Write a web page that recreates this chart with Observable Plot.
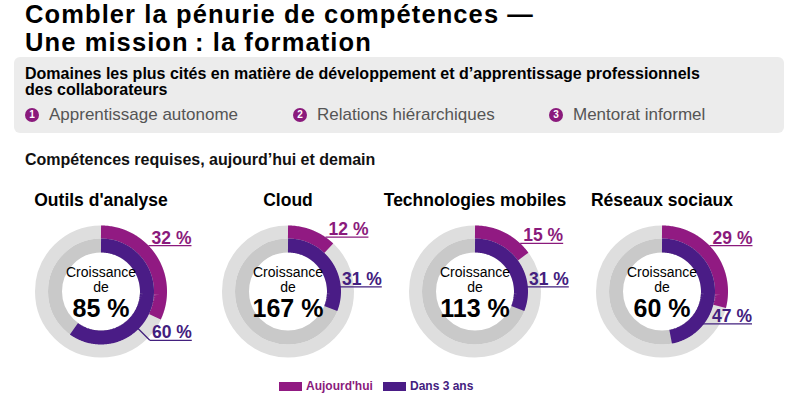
<!DOCTYPE html>
<html><head><meta charset="utf-8">
<script src="https://cdn.jsdelivr.net/npm/d3@7"></script>
<script src="https://cdn.jsdelivr.net/npm/@observablehq/plot@0.6"></script>
<style>
body{margin:0;width:794px;height:398px;background:#fff;font-family:"Liberation Sans",Arial,sans-serif;position:relative;overflow:hidden;color:#000}
.abs{position:absolute;white-space:nowrap}
.title{left:25px;font-weight:bold;font-size:25.5px;line-height:29px;letter-spacing:1.1px}
.box{position:absolute;left:14px;top:57px;width:770px;height:76px;background:#ececec;border-radius:6px}
.boxhead{left:25px;top:65.5px;font-weight:bold;font-size:16px;line-height:16px}
.item{top:105px;font-size:17px;line-height:20px;color:#555}
.num{position:absolute;top:108px;width:14px;height:14px;border-radius:7px;background:#8a1a7c;color:#fff;font-weight:bold;font-size:10px;line-height:14px;text-align:center}
.sub{left:25px;top:151px;font-size:16px;line-height:18px;font-weight:bold;color:#111}
.legsw{position:absolute;top:382px;width:23px;height:9px}
.legtx{top:379px;font-size:12px;line-height:14px;font-weight:bold}
#chart{position:absolute;left:0;top:175px}
</style></head>
<body>
<div id="root"></div>
<div id="chart"></div>
<script>
// ---- data ----
const titleLines = ["Combler la pénurie de compétences —", "Une mission\u202f: la formation"];
const boxTitle = ["Domaines les plus cités en matière de développement et d’apprentissage professionnels", "des collaborateurs"];
const domains = ["Apprentissage autonome", "Relations hiérarchiques", "Mentorat informel"];
const subtitle = "Compétences requises, aujourd’hui et demain";
const skills = ["Outils d'analyse", "Cloud", "Technologies mobiles", "Réseaux sociaux"];
const today = [32, 12, 15, 29];      // Aujourd'hui (%)
const in3years = [60, 31, 31, 47];   // Dans 3 ans (%)
const growth = [85, 167, 113, 60];   // Croissance (%)
const seriesNames = ["Aujourd'hui", "Dans 3 ans"];

// ---- style ----
const MAGENTA = "#911a82", PURPLE = "#4a1c86";
const MAG_TXT = "#8a1a7c", PUR_TXT = "#43207e";

// ---- header (HTML) ----
const root = document.getElementById("root");
function add(cls, html, style) {
  const d = document.createElement("div");
  d.className = cls; d.innerHTML = html;
  if (style) Object.assign(d.style, style);
  root.appendChild(d); return d;
}
titleLines.forEach((t, i) => add("abs title", t, {top: (-0.5 + i * 28.8) + "px"}));
add("box", "");
add("abs boxhead", boxTitle.join("<br>"));
const itemX = [32, 300, 556];
domains.forEach((t, i) => {
  add("num", String(i + 1), {left: (itemX[i] - 7) + "px"});
  add("abs item", t, {left: (itemX[i] + 17) + "px"});
});
add("abs sub", subtitle);
// legend
const legX = [279, 383];
const legC = [MAGENTA, PURPLE];
const legT = [MAG_TXT, PUR_TXT];
seriesNames.forEach((s, i) => {
  add("legsw", "", {left: legX[i] + "px", background: legC[i]});
  add("abs legtx", s, {left: (legX[i] + 27) + "px", color: legT[i]});
});

// ---- geometry derived from the values ----
const R_OUT = 59.5, W_OUT = 13;   // outer ring (today)
const R_IN = 46, W_IN = 14;       // inner ring (in 3 years)
function arcPoints(values, radius) {
  const pts = [];
  values.forEach((v, i) => {
    const end = v / 100 * 360;
    for (let a = 0; ; a += 1) {
      const ang = Math.min(a, end) * Math.PI / 180;
      pts.push({skill: skills[i], x: radius * Math.sin(ang), y: -radius * Math.cos(ang)});
      if (a >= end) break;
    }
  });
  return pts;
}
const arcToday = arcPoints(today, R_OUT);
const arcFuture = arcPoints(in3years, R_IN);

const UL = 43, INNER_END = 90;
const labToday = skills.map((s, i) => {
  const a = Math.min(today[i] * 3.6 * 0.8, 46) * Math.PI / 180;
  const x0 = 66 * Math.sin(a), y0 = -66 * Math.cos(a);
  return {skill: s, text: `${today[i]} %`, x0, y0, xs: x0, ys: y0, xe: x0 + UL};
});
const labFuture = skills.map((s, i) => {
  const deg = Math.min(in3years[i] * 3.6 * 0.76, 135);
  const a = deg * Math.PI / 180;
  const x0 = 52 * Math.sin(a), y0 = -52 * Math.cos(a);
  const far = deg >= 130.5;
  const xs = far ? 69 * Math.sin(a) : x0, ys = far ? -69 * Math.cos(a) : y0;
  return {skill: s, text: `${in3years[i]} %`, x0, y0, xs, ys, xe: Math.max(INNER_END, xs + 42)};
});

const F = {fx: "skill"};
const zero = () => 0;
const chart = Plot.plot({
  width: 794, height: 200,
  marginLeft: 7, marginRight: 39, marginTop: 0, marginBottom: 0,
  fx: {domain: skills, padding: 0, axis: null},
  x: {domain: [-93.5, 93.5], axis: null},
  y: {domain: [-116, 84], range: [0, 200], axis: null},
  style: {fontFamily: "'Liberation Sans', Arial, sans-serif", background: "transparent", overflow: "visible"},
  marks: [
    Plot.dot(skills, {fx: d => d, x: zero, y: zero, r: R_OUT, stroke: "#dedede", strokeWidth: W_OUT, fill: "none"}),
    Plot.dot(skills, {fx: d => d, x: zero, y: zero, r: R_IN, stroke: "#c9c9c9", strokeWidth: W_IN, fill: "none"}),
    Plot.line(arcToday, {...F, x: "x", y: "y", stroke: MAGENTA, strokeWidth: W_OUT, strokeLinecap: "butt", strokeLinejoin: "miter"}),
    Plot.line(arcFuture, {...F, x: "x", y: "y", stroke: PURPLE, strokeWidth: W_IN, strokeLinecap: "butt", strokeLinejoin: "miter"}),
    // titles
    Plot.text(skills, {fx: d => d, x: zero, y: () => -86, text: d => d, fontSize: 17.5, fontWeight: "bold", fill: "#000", lineAnchor: "bottom"}),
    // center text
    Plot.text(skills, {fx: d => d, x: zero, y: () => -15, text: () => "Croissance", fontSize: 14, fill: "#000", lineAnchor: "bottom"}),
    Plot.text(skills, {fx: d => d, x: zero, y: () => 0, text: () => "de", fontSize: 14, fill: "#000", lineAnchor: "bottom"}),
    Plot.text(skills, {fx: d => d, x: zero, y: () => 25, text: (d, i) => `${growth[i]} %`, fontSize: 25, fontWeight: "bold", fill: "#000", lineAnchor: "bottom"}),
    // labels: leaders, underlines, values
    Plot.link(labFuture, {...F, x1: "x0", y1: "y0", x2: "xs", y2: "ys", stroke: PUR_TXT, strokeWidth: 1.3}),
    Plot.link(labToday, {...F, x1: "xs", y1: "ys", x2: "xe", y2: "ys", stroke: MAG_TXT, strokeWidth: 1.3}),
    Plot.link(labFuture, {...F, x1: "xs", y1: "ys", x2: "xe", y2: "ys", stroke: PUR_TXT, strokeWidth: 1.3}),
    Plot.text(labToday, {...F, x: "xe", y: d => d.ys - 2, text: "text", textAnchor: "end", lineAnchor: "bottom", fontSize: 17.5, fontWeight: "bold", fill: MAG_TXT}),
    Plot.text(labFuture, {...F, x: "xe", y: d => d.ys - 2, text: "text", textAnchor: "end", lineAnchor: "bottom", fontSize: 17.5, fontWeight: "bold", fill: PUR_TXT})
  ]
});
document.getElementById("chart").appendChild(chart);
</script>
</body></html>
